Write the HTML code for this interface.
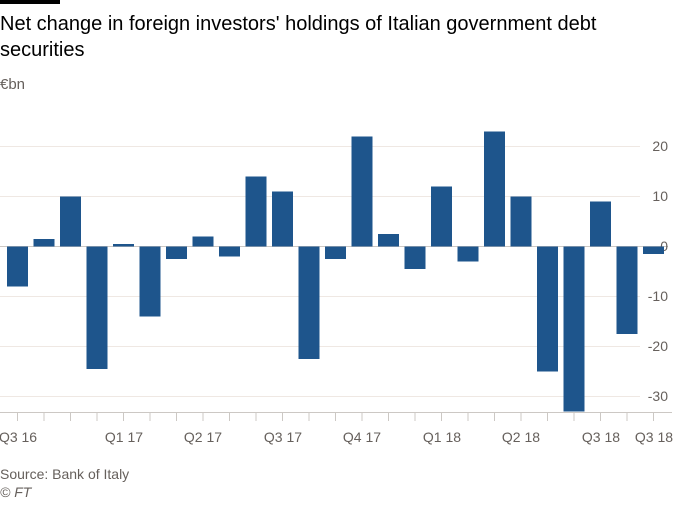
<!DOCTYPE html>
<html><head><meta charset="utf-8"><style>
body{margin:0;background:#fff;width:700px;height:500px;overflow:hidden;font-family:"Liberation Sans",sans-serif}
</style></head><body>
<svg width="700" height="500" xmlns="http://www.w3.org/2000/svg" font-family="Liberation Sans, sans-serif">
<rect x="0" y="0" width="60" height="4" fill="#000"/>
<text x="0" y="30" font-size="20" fill="#000">Net change in foreign investors' holdings of Italian government debt</text>
<text x="0" y="56" font-size="20" fill="#000">securities</text>
<text x="0" y="89" font-size="15" fill="#66605c">€bn</text>
<g stroke="#efe8e3" stroke-width="1">
<line x1="0" x2="640" y1="146.5" y2="146.5"/>
<line x1="0" x2="640" y1="196.5" y2="196.5"/>
<line x1="0" x2="640" y1="296.5" y2="296.5"/>
<line x1="0" x2="640" y1="346.5" y2="346.5"/>
<line x1="0" x2="640" y1="396.5" y2="396.5"/>
</g>
<line x1="0" x2="668" y1="246.5" y2="246.5" stroke="#ccc8c4"/>
<g fill="#66605c" font-size="14" text-anchor="end">
<text x="668" y="151">20</text><text x="668" y="201">10</text><text x="668" y="251">0</text>
<text x="668" y="301">-10</text><text x="668" y="351">-20</text><text x="668" y="401">-30</text>
</g>
<g fill="#1e558c">
<rect x="7" y="246.5" width="21" height="40"/>
<rect x="33.5" y="239" width="21" height="7.5"/>
<rect x="60" y="196.5" width="21" height="50"/>
<rect x="86.5" y="246.5" width="21" height="122.5"/>
<rect x="113" y="244" width="21" height="2.5"/>
<rect x="139.5" y="246.5" width="21" height="70"/>
<rect x="166" y="246.5" width="21" height="12.5"/>
<rect x="192.5" y="236.5" width="21" height="10"/>
<rect x="219" y="246.5" width="21" height="10"/>
<rect x="245.5" y="176.5" width="21" height="70"/>
<rect x="272" y="191.5" width="21" height="55"/>
<rect x="298.5" y="246.5" width="21" height="112.5"/>
<rect x="325" y="246.5" width="21" height="12.5"/>
<rect x="351.5" y="136.5" width="21" height="110"/>
<rect x="378" y="234" width="21" height="12.5"/>
<rect x="404.5" y="246.5" width="21" height="22.5"/>
<rect x="431" y="186.5" width="21" height="60"/>
<rect x="457.5" y="246.5" width="21" height="15"/>
<rect x="484" y="131.5" width="21" height="115"/>
<rect x="510.5" y="196.5" width="21" height="50"/>
<rect x="537" y="246.5" width="21" height="125"/>
<rect x="563.5" y="246.5" width="21" height="165"/>
<rect x="590" y="201.5" width="21" height="45"/>
<rect x="616.5" y="246.5" width="21" height="87.5"/>
<rect x="643" y="246.5" width="21" height="7.5"/>
</g>
<line x1="0" x2="672" y1="412.5" y2="412.5" stroke="#ccc8c4"/>
<path stroke="#ccc8c4" fill="none" d="M17.5 413v8M44 413v8M70.5 413v8M97 413v8M123.5 413v8M150 413v8M176.5 413v8M203 413v8M229.5 413v8M256 413v8M282.5 413v8M309 413v8M335.5 413v8M362 413v8M388.5 413v8M415 413v8M441.5 413v8M468 413v8M494.5 413v8M521 413v8M547.5 413v8M574 413v8M600.5 413v8M627 413v8M653.5 413v8"/>
<g fill="#66605c" font-size="14" text-anchor="middle">
<text x="18" y="442">Q3 16</text><text x="124" y="442">Q1 17</text><text x="203" y="442">Q2 17</text>
<text x="283" y="442">Q3 17</text><text x="362" y="442">Q4 17</text><text x="442" y="442">Q1 18</text>
<text x="521" y="442">Q2 18</text><text x="601" y="442">Q3 18</text><text x="654" y="442">Q3 18</text>
</g>
<text x="0" y="479" font-size="14" fill="#66605c">Source: Bank of Italy</text>
<text x="0" y="497" font-size="14" fill="#66605c" font-style="italic">© FT</text>
</svg>
</body></html>
